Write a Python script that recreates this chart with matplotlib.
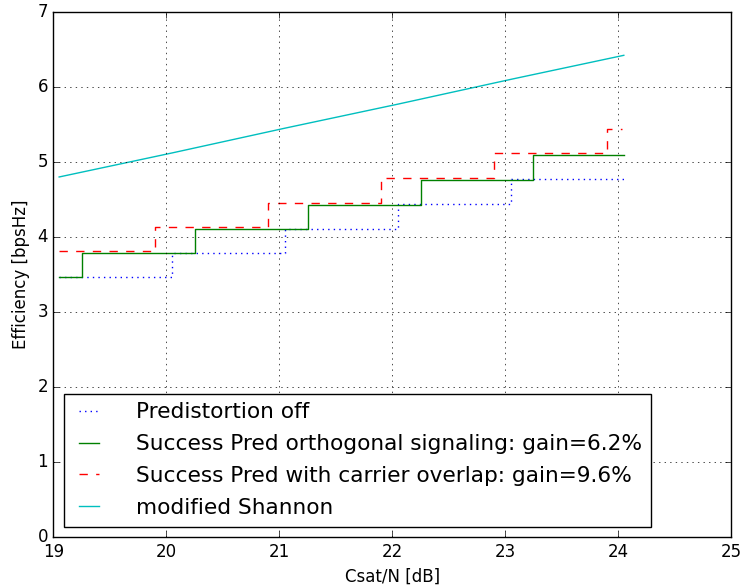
import matplotlib
matplotlib.use('Agg')
import matplotlib.pyplot as plt

plt.style.use('classic')

# ── data ──────────────────────────────────────────────────────────────────────

off_x = [19.05, 20.05, 21.05, 22.05, 23.05, 24.05]
off_y = [3.47, 3.79, 4.11, 4.44, 4.77, 4.77]

orth_x = [19.05, 19.25, 20.25, 21.25, 22.25, 23.25, 24.05]
orth_y = [3.47, 3.79, 4.11, 4.43, 4.76, 5.09, 5.09]

ovl_x = [19.05, 19.9, 20.9, 21.9, 22.9, 23.9, 24.03]
ovl_y = [3.81, 4.14, 4.46, 4.79, 5.12, 5.44, 5.44]

shannon_x = [19.05, 20.05, 21.05, 22.05, 23.05, 24.05]
shannon_y = [4.80, 5.12, 5.45, 5.77, 6.10, 6.42]

labels = ['Predistortion off',
          'Success Pred orthogonal signaling: gain=6.2%',
          'Success Pred with carrier overlap: gain=9.6%',
          'modified Shannon']

# ── plot ──────────────────────────────────────────────────────────────────────

fig = plt.figure(figsize=(7.43, 5.88), dpi=100, facecolor='white')
ax = fig.add_subplot(111)
fig.subplots_adjust(left=0.072, right=0.984, top=0.98, bottom=0.086)

ax.step(off_x, off_y, where='post', color='b', linestyle=':', label=labels[0])
ax.step(orth_x, orth_y, where='post', color='g', linestyle='-', label=labels[1])
ax.step(ovl_x, ovl_y, where='post', color='r', linestyle='--', label=labels[2])
ax.plot(shannon_x, shannon_y, color='c', linestyle='-', label=labels[3])

ax.set_xlim(19, 25)
ax.set_ylim(0, 7)
ax.set_xlabel('Csat/N [dB]')
ax.set_ylabel('Efficiency [bpsHz]')
ax.grid(True)
ax.legend(loc='lower left', fontsize=15.6, handlelength=1.5,
          handletextpad=1.42, labelspacing=0.55, borderpad=0.4,
          borderaxespad=0.5)

fig.savefig('out.png', dpi=100, facecolor='white')
